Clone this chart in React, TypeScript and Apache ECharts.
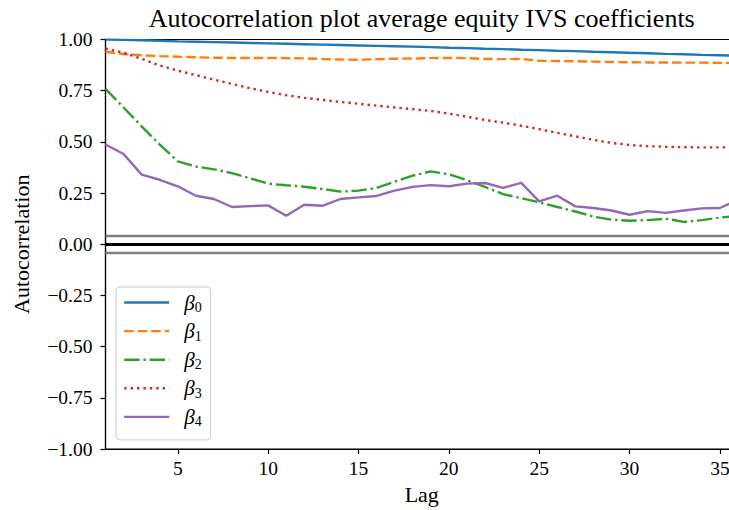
import React, { useEffect, useRef } from 'react';
import * as echarts from 'echarts';

const lags = [1, 2, 3, 4, 5, 6, 7, 8, 9, 10, 11, 12, 13, 14, 15, 16, 17, 18, 19, 20, 21, 22, 23, 24, 25, 26, 27, 28, 29, 30, 31, 32, 33, 34, 35, 36];

const beta0 = [1.0, 0.998, 0.996, 0.994, 0.991, 0.989, 0.987, 0.985, 0.983, 0.981, 0.979, 0.977, 0.975, 0.973, 0.971, 0.969, 0.967, 0.965, 0.963, 0.96, 0.958, 0.955, 0.953, 0.95, 0.948, 0.945, 0.943, 0.94, 0.938, 0.935, 0.933, 0.93, 0.928, 0.925, 0.923, 0.921];
const beta1 = [0.94, 0.929, 0.923, 0.919, 0.916, 0.913, 0.911, 0.91, 0.91, 0.91, 0.909, 0.908, 0.905, 0.902, 0.901, 0.904, 0.906, 0.907, 0.909, 0.91, 0.909, 0.905, 0.904, 0.905, 0.896, 0.895, 0.894, 0.892, 0.89, 0.889, 0.888, 0.888, 0.887, 0.887, 0.886, 0.886];
const beta2 = [0.759, 0.668, 0.576, 0.487, 0.405, 0.38, 0.366, 0.347, 0.322, 0.296, 0.288, 0.281, 0.27, 0.257, 0.262, 0.275, 0.305, 0.335, 0.356, 0.342, 0.313, 0.28, 0.245, 0.225, 0.205, 0.182, 0.16, 0.135, 0.12, 0.115, 0.118, 0.125, 0.109, 0.118, 0.13, 0.138];
const beta3 = [0.956, 0.935, 0.906, 0.873, 0.848, 0.826, 0.804, 0.783, 0.762, 0.744, 0.728, 0.715, 0.705, 0.695, 0.686, 0.677, 0.668, 0.66, 0.651, 0.638, 0.623, 0.607, 0.594, 0.579, 0.562, 0.544, 0.527, 0.51, 0.495, 0.485, 0.479, 0.476, 0.474, 0.473, 0.473, 0.473];
const beta4 = [0.487, 0.441, 0.34, 0.315, 0.283, 0.237, 0.221, 0.182, 0.186, 0.19, 0.139, 0.193, 0.188, 0.221, 0.229, 0.236, 0.262, 0.28, 0.289, 0.283, 0.296, 0.299, 0.275, 0.3, 0.209, 0.237, 0.185, 0.177, 0.165, 0.144, 0.162, 0.153, 0.165, 0.175, 0.177, 0.217];

const seriesNames = ['β0', 'β1', 'β2', 'β3', 'β4'];
const seriesValues = [beta0, beta1, beta2, beta3, beta4];
const seriesColors = ['#1f77b4', '#ff7f0e', '#2ca02c', '#d62728', '#9467bd'];
const seriesDash: any[] = ['solid', [9.5, 4], [15.4, 3.8, 2.4, 3.8], [2.4, 4], 'solid'];

const confLevels = [0.039, -0.039];
const zeroLevel = 0;
const xTicks = [5, 10, 15, 20, 25, 30, 35];
const xMin = 1;
const xMax = 36;
const yTicks = [-1, -0.75, -0.5, -0.25, 0, 0.25, 0.5, 0.75, 1];

const FONT = "'Liberation Serif', 'DejaVu Serif', serif";

export default function App() {
  const ref = useRef<HTMLDivElement>(null);
  useEffect(() => {
    if (!ref.current) return;
    const chart = echarts.init(ref.current, null, { renderer: 'svg' });
    const series: any[] = seriesNames.map((name, i) => ({
      name,
      type: 'line',
      symbol: 'none',
      showSymbol: false,
      z: 3,
      data: lags.map((l, j) => [l, seriesValues[i][j]]),
      lineStyle: { color: seriesColors[i], width: 2.4, type: seriesDash[i], cap: 'butt' },
      itemStyle: { color: seriesColors[i] },
      emphasis: { disabled: true },
    }));
    series[0].markLine = {
      silent: true,
      symbol: 'none',
      label: { show: false },
      animation: false,
      data: [
        ...confLevels.map((v) => ({ yAxis: v, lineStyle: { color: '#808080', width: 2.4, type: 'solid' } })),
        { yAxis: zeroLevel, lineStyle: { color: '#000000', width: 3, type: 'solid' } },
      ],
    };
    const option: any = {
      animation: false,
      backgroundColor: '#ffffff',
      title: {
        text: 'Autocorrelation plot average equity IVS coefficients',
        left: 421.7,
        textAlign: 'center',
        top: 5,
        padding: 0,
        textStyle: { fontFamily: FONT, fontSize: 26, fontWeight: 'normal', color: '#000' },
      },
      grid: {
        left: 105.5,
        right: 7,
        top: 39.5,
        bottom: 61,
        show: true,
        borderColor: '#000',
        borderWidth: 1.2,
        backgroundColor: 'transparent',
      },
      legend: {
        orient: 'vertical',
        left: 116,
        top: 287,
        itemWidth: 45,
        itemHeight: 14,
        itemGap: 6.1,
        padding: [5, 9, 11, 7],
        borderColor: '#cccccc',
        borderWidth: 1,
        borderRadius: 4,
        backgroundColor: 'rgba(255,255,255,0.8)',
        lineStyle: { width: 2.4 },
        itemStyle: { opacity: 0 },
        data: seriesNames,
        formatter: (name: string) => `{b|β}{s|${name.slice(1)}}`,
        textStyle: {
          fontFamily: FONT,
          color: '#000',
          rich: {
            b: { fontFamily: FONT, fontStyle: 'italic', fontSize: 21, lineHeight: 24, padding: [0, 0, 0, 10], color: '#000' },
            s: { fontFamily: FONT, fontSize: 14, lineHeight: 11, verticalAlign: 'bottom', color: '#000' },
          },
        },
      },
      xAxis: {
        type: 'value',
        min: xMin,
        max: xMax,
        name: 'Lag',
        nameLocation: 'middle',
        nameGap: 34,
        nameTextStyle: { fontFamily: FONT, fontSize: 22, color: '#000' },
        axisLine: { show: true, onZero: false, lineStyle: { color: '#000', width: 1.2 } },
        axisTick: { show: true, length: 5, customValues: xTicks, lineStyle: { color: '#000', width: 1.2 } },
        axisLabel: { customValues: xTicks, margin: 9, fontFamily: FONT, fontSize: 19.5, color: '#000' },
        splitLine: { show: false },
      },
      yAxis: {
        type: 'value',
        min: -1,
        max: 1,
        interval: 0.25,
        name: 'Autocorrelation',
        nameLocation: 'middle',
        nameGap: 73,
        nameTextStyle: { fontFamily: FONT, fontSize: 22, color: '#000' },
        axisLine: { show: true, onZero: false, lineStyle: { color: '#000', width: 1.2 } },
        axisTick: { show: true, length: 5, customValues: yTicks, lineStyle: { color: '#000', width: 1.2 } },
        axisLabel: {
          customValues: yTicks,
          margin: 13,
          fontFamily: FONT,
          fontSize: 19.5,
          color: '#000',
          formatter: (v: number) => (v < 0 ? '\u2212' : '') + Math.abs(v).toFixed(2),
        },
        splitLine: { show: false },
      },
      series,
    };
    chart.setOption(option);
    return () => chart.dispose();
  }, []);
  return (
    <div style={{ position: 'absolute', left: 0, top: 0, width: 729, height: 510, overflow: 'hidden', background: '#fff' }}>
      <div ref={ref} style={{ width: 745, height: 510 }} />
    </div>
  );
}
